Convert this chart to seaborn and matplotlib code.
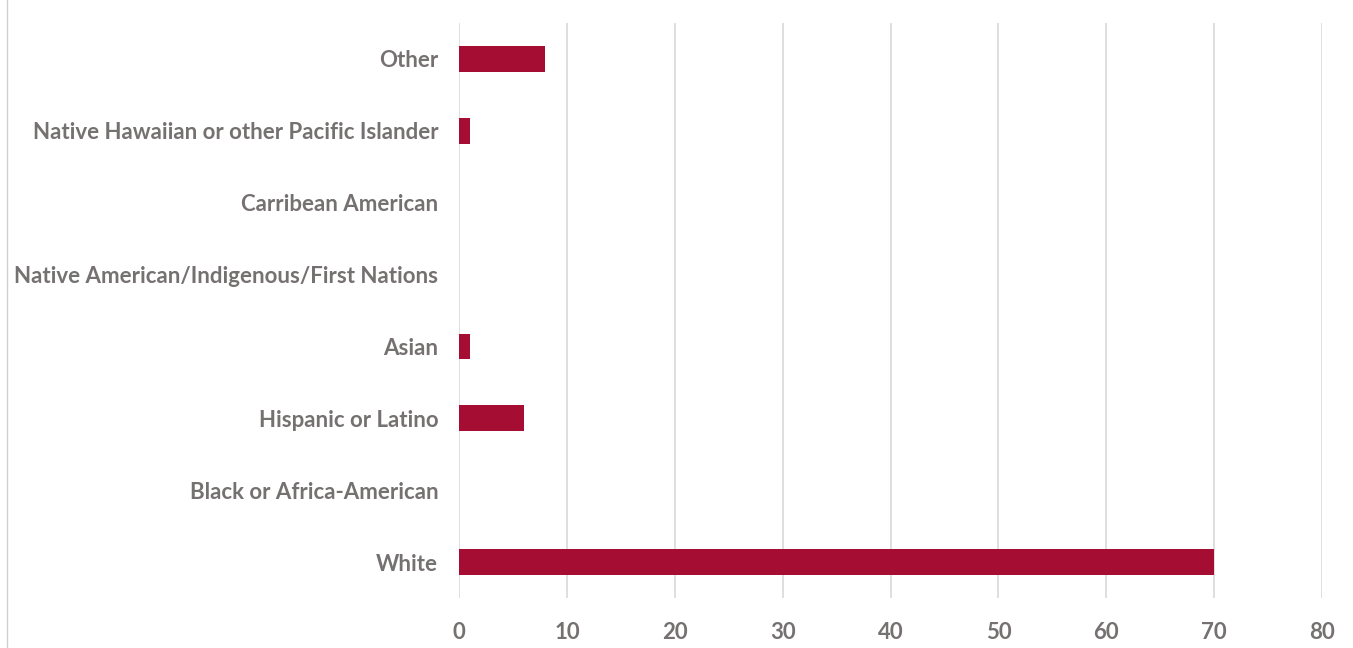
import matplotlib
matplotlib.use("Agg")
import matplotlib.pyplot as plt
import seaborn as sns
import pandas as pd
from matplotlib.lines import Line2D

categories = ["Other", "Native Hawaiian or other Pacific Islander", "Carribean American",
              "Native American/Indigenous/First Nations", "Asian", "Hispanic or Latino",
              "Black or Africa-American", "White"]
values = [8, 1, 0, 0, 1, 6, 0, 70]
xticks = [0, 10, 20, 30, 40, 50, 60, 70, 80]

sns.set_theme(style="white")
plt.rcParams['font.family'] = ['Lato', 'DejaVu Sans']

df = pd.DataFrame({"cat": categories, "val": values})

fig = plt.figure(figsize=(13.53, 6.48), dpi=100)
ax = fig.add_axes([459/1353, 1-598/648, (1322-459)/1353, (598-23)/648])
sns.barplot(data=df, y="cat", x="val", orient="h", color="#A50D33", width=0.36,
            saturation=1, linewidth=0, ax=ax, zorder=3)
ax.set_xlim(0, 80)
ax.set_xticks(xticks)
ax.set_xlabel("")
ax.set_ylabel("")
ax.grid(axis="x", color="#d9d9d9", linewidth=1.2, zorder=0)
ax.grid(axis="y", visible=False)
for s in ax.spines.values():
    s.set_visible(False)
ax.tick_params(axis="both", length=0, labelsize=16, labelcolor="#767171")
ax.tick_params(axis="y", pad=15)
ax.tick_params(axis="x", pad=17)
for lab in ax.get_xticklabels() + ax.get_yticklabels():
    lab.set_fontweight("bold")

fig.add_artist(Line2D([7/1353, 7/1353], [0, 1], transform=fig.transFigure,
                      color="#d0d0d0", linewidth=1))
fig.savefig("out.png", dpi=100)
